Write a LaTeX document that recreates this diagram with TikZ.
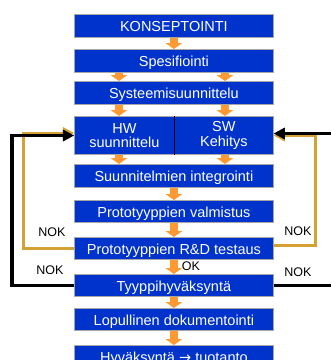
\documentclass[tikz,border=0pt]{standalone}
\usepackage{fontspec}
\setmainfont{Liberation Sans}
\newfontfamily\arrowfont{DejaVu Sans}
\usetikzlibrary{arrows.meta,calc}
\definecolor{boxblue}{RGB}{0,51,204}
\definecolor{arrorange}{RGB}{255,153,51}
\definecolor{fbgold}{RGB}{212,162,52}
\begin{document}
\begin{tikzpicture}[x=1pt,y=-1pt,
  basebox/.style={draw=gray!70, line width=0.8pt, fill=boxblue, text=white,
    minimum width=199pt, minimum height=23pt, inner sep=0pt, anchor=north west},
  stepbox/.style={basebox, font=\fontsize{14.5}{16}\selectfont, text height=12pt, text depth=0pt},
  twobox/.style={basebox, font=\fontsize{14.5}{14.5}\selectfont, align=center, minimum height=38pt},
  orangearr/.style={draw=arrorange, line width=8pt, -{Triangle[length=6pt,width=17pt,line width=0pt]}},
  goldline/.style={draw=fbgold, line width=3pt, line join=miter, -{Triangle[length=11pt,width=12pt,line width=0pt]}},
  blackline/.style={draw=black, line width=3.5pt, line join=miter, -{Triangle[length=11pt,width=12pt,line width=0pt]}},
  lbl/.style={font=\fontsize{12.5}{14}\selectfont, inner sep=0pt, text=black}]
\useasboundingbox (0,0) rectangle (331,360);
\clip (0,0) rectangle (331,360);

% boxes
\node[stepbox] (k) at (74,14) {KONSEPTOINTI};
\node[stepbox] (sp) at (74,49) {Spesifiointi};
\node[stepbox] (sy) at (74,81) {Systeemisuunnittelu};
\node[twobox, minimum width=100pt] (hw) at (74,116) {HW\\suunnittelu};
\node[twobox, minimum width=99pt] (sw) at (174,116) {SW\\Kehitys};
\node[stepbox] (su) at (74,164) {Suunnitelmien integrointi};
\node[stepbox, minimum height=22pt] (pv) at (74,200) {Prototyyppien valmistus};
\node[stepbox, minimum height=22pt] (rd) at (74,237) {Prototyyppien R\&D testaus};
\node[stepbox, minimum height=22pt] (ty) at (74,274) {Tyyppihyväksyntä};
\node[stepbox, minimum height=22pt] (lo) at (74,308) {Lopullinen dokumentointi};
\node[stepbox] (hy) at (74,345) {Hyväksyntä {\arrowfont →} tuotanto};
\draw[black, line width=1pt] (hw.north east) -- (hw.south east);

% orange flow arrows
\draw[orangearr] (k.south) -- (sp.north);
\draw[orangearr] ($(sp.south west)+(45,0)$) -- ($(sy.north west)+(45,0)$);
\draw[orangearr] ($(sp.south west)+(151,0)$) -- ($(sy.north west)+(151,0)$);
\draw[orangearr] ($(sy.south west)+(45,0)$) -- ($(hw.north west)+(45,0)$);
\draw[orangearr] ($(sy.south west)+(151,0)$) -- ($(sw.north west)+(51,0)$);
\draw[orangearr] ($(hw.south west)+(45,0)$) -- ($(su.north west)+(45,0)$);
\draw[orangearr] ($(sw.south west)+(51,0)$) -- ($(su.north west)+(151,0)$);
\draw[orangearr] (su.south) -- (pv.north);
\draw[orangearr] (pv.south) -- (rd.north);
\draw[orangearr] (rd.south) -- (ty.north);
\draw[orangearr] (ty.south) -- (lo.north);
\draw[orangearr] (lo.south) -- (hy.north);

% feedback loops
\coordinate (lg) at (24,133);
\coordinate (lb) at (12,135.5);
\coordinate (rg) at (316,135.5);
\coordinate (rbt) at (345,133.5);
\draw[goldline] (rd.west) -| (lg) -- (lg -| hw.west);
\draw[blackline] (ty.west) -| (lb) -- (lb -| hw.west);
\draw[goldline] ([yshift=2.5pt]rd.east) -| (rg) -- (rg -| sw.east);
\draw[blackline] (rbt) -- (rbt -| sw.east);
\draw[blackline, -] (ty.east) -- (ty.east -| rbt);

% labels
\node[lbl] (n1) at (52,232) {NOK};
\node[lbl] (n2) at (50,270) {NOK};
\node[lbl] (n3) at (298,231) {NOK};
\node[lbl] (n4) at (298,272) {NOK};
\node[lbl] (ok) at (191,266) {OK};
\end{tikzpicture}
\end{document}
